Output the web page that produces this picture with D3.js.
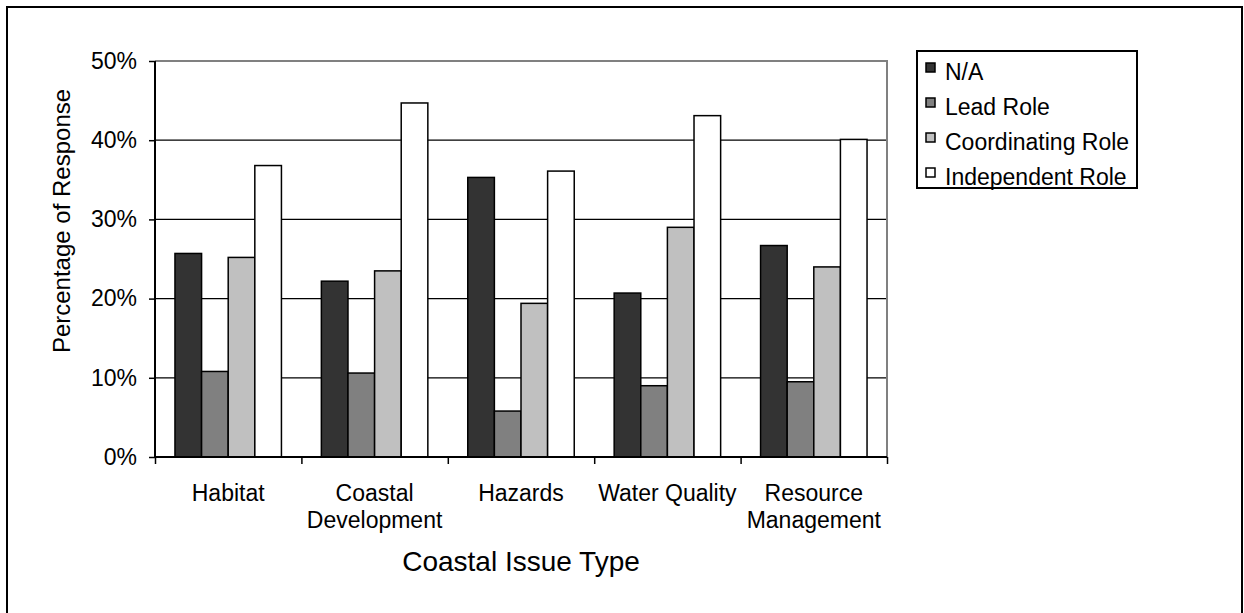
<!DOCTYPE html>
<html lang="en">
<meta charset="UTF-8">
<title>Coastal Issue Type</title>
<style>
  body { margin: 0; background: #fff; }
  text { font-family: "Liberation Sans", Arial, sans-serif; fill: #000; }
</style>
<script src="https://d3js.org/d3.v7.min.js"></script>
<body>
<div id="chart"></div>
<script>
// data
var categories = ["Habitat", "Coastal Development", "Hazards", "Water Quality", "Resource Management"];
var categoryLines = [["Habitat"], ["Coastal", "Development"], ["Hazards"], ["Water Quality"], ["Resource", "Management"]];
var series = ["N/A", "Lead Role", "Coordinating Role", "Independent Role"];
var naValues = [25.7, 22.2, 35.3, 20.7, 26.7];
var leadValues = [10.8, 10.6, 5.8, 9.0, 9.5];
var coordValues = [25.2, 23.5, 19.4, 29.0, 24.0];
var indepValues = [36.8, 44.7, 36.1, 43.1, 40.1];
var yTicks = [0, 10, 20, 30, 40, 50];

var colors = ["#333333", "#808080", "#c0c0c0", "#ffffff"];
var allValues = [naValues, leadValues, coordValues, indepValues];

var W = 1244, H = 613;
var plot = {left: 155, top: 61, right: 887, bottom: 457};

var svg = d3.select("#chart").append("svg")
    .attr("width", W).attr("height", H);

// outer frame
svg.append("rect")
    .attr("x", 7).attr("y", 7).attr("width", 1235).attr("height", 620)
    .attr("fill", "none").attr("stroke", "#000").attr("stroke-width", 2);

var x0 = d3.scaleBand().domain(categories).range([plot.left, plot.right]);
var x1 = d3.scaleBand().domain(series).range([0, x0.bandwidth()])
    .paddingInner(0).paddingOuter(0.75);
var y = d3.scaleLinear().domain([0, 50]).range([plot.bottom, plot.top]);

// gridlines
svg.append("g").selectAll("line")
    .data(yTicks.filter(function(d) { return d > 0 && d < 50; }))
    .enter().append("line")
      .attr("x1", plot.left).attr("x2", plot.right)
      .attr("y1", function(d) { return y(d); })
      .attr("y2", function(d) { return y(d); })
      .attr("stroke", "#000").attr("stroke-width", 1.3);

// gray top and right border of the plot area
svg.append("path")
    .attr("d", "M" + plot.left + "," + y(50) + "H" + plot.right + "V" + plot.bottom)
    .attr("fill", "none").attr("stroke", "#808080").attr("stroke-width", 2);

// bars
var rows = [];
categories.forEach(function(c, i) {
  series.forEach(function(s, j) {
    rows.push({cat: c, s: s, v: allValues[j][i], color: colors[j]});
  });
});
svg.append("g").selectAll("rect")
    .data(rows)
    .enter().append("rect")
      .attr("x", function(d) { return x0(d.cat) + x1(d.s); })
      .attr("y", function(d) { return y(d.v); })
      .attr("width", x1.bandwidth())
      .attr("height", function(d) { return y(0) - y(d.v); })
      .attr("fill", function(d) { return d.color; })
      .attr("stroke", "#000").attr("stroke-width", 1.5);

// y axis
var yAxis = svg.append("g")
    .attr("transform", "translate(" + plot.left + ",0)")
    .call(d3.axisLeft(y).tickValues(yTicks).tickSize(6).tickPadding(12)
      .tickFormat(function(d) { return d + "%"; }));
yAxis.select(".domain").attr("stroke", "#000").attr("stroke-width", 2)
    .attr("d", "M0," + plot.top + "V" + plot.bottom);
yAxis.selectAll(".tick line").attr("stroke", "#000").attr("stroke-width", 1.5);
yAxis.selectAll(".tick text")
    .style("font-size", "23px").style("font-family", "'Liberation Sans', Arial, sans-serif")
    .attr("fill", "#000");

// x axis with ticks at the category boundaries
var xEdge = d3.scaleLinear().domain([0, categories.length]).range([plot.left, plot.right]);
var xAxis = svg.append("g")
    .attr("transform", "translate(0," + plot.bottom + ")")
    .call(d3.axisBottom(xEdge).tickValues(d3.range(categories.length + 1))
      .tickSize(7).tickFormat(""));
xAxis.select(".domain").attr("stroke", "#000").attr("stroke-width", 2)
    .attr("d", "M" + plot.left + ",0H" + plot.right);
xAxis.selectAll(".tick line").attr("stroke", "#000").attr("stroke-width", 1.5);

// category labels
categories.forEach(function(c, i) {
  var t = svg.append("text")
      .attr("x", x0(c) + x0.bandwidth() / 2)
      .attr("y", 501)
      .attr("text-anchor", "middle")
      .style("font-size", "23px");
  categoryLines[i].forEach(function(line, k) {
    t.append("tspan").attr("x", x0(c) + x0.bandwidth() / 2)
      .attr("dy", k === 0 ? 0 : 27).text(line);
  });
});

// axis titles
svg.append("text")
    .attr("x", (plot.left + plot.right) / 2).attr("y", 571)
    .attr("text-anchor", "middle").style("font-size", "28px")
    .text("Coastal Issue Type");
svg.append("text")
    .attr("transform", "translate(70,221) rotate(-90)")
    .attr("text-anchor", "middle").style("font-size", "24px")
    .text("Percentage of Response");

// legend
var legend = svg.append("g");
legend.append("rect")
    .attr("x", 917).attr("y", 51).attr("width", 220).attr("height", 137)
    .attr("fill", "#fff").attr("stroke", "#000").attr("stroke-width", 2);
series.forEach(function(s, j) {
  legend.append("rect")
      .attr("x", 926).attr("y", 63 + j * 35).attr("width", 9).attr("height", 9)
      .attr("fill", colors[j]).attr("stroke", "#000").attr("stroke-width", 1.5);
  legend.append("text")
      .attr("x", 945).attr("y", 80 + j * 35)
      .style("font-size", "23px").text(s);
});
</script>
</body>
</html>
